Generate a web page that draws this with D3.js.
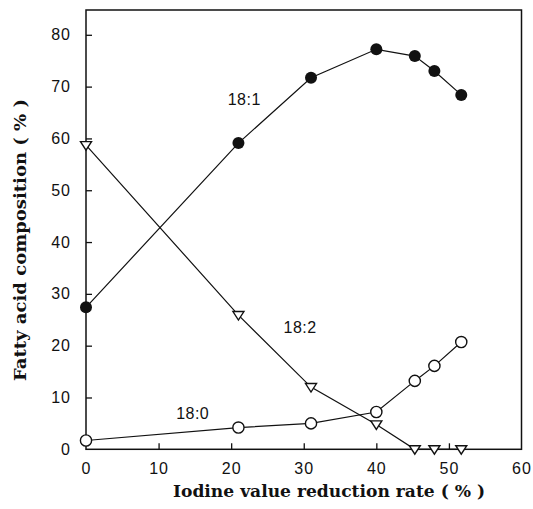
<!DOCTYPE html>
<html>
<head>
<meta charset="utf-8">
<script src="https://cdn.jsdelivr.net/npm/d3@7"></script>
<style>
  html, body { margin: 0; padding: 0; background: #fff; }
  svg { display: block; }
</style>
</head>
<body>
<svg id="chart" width="533" height="509"></svg>
<script>
// Iodine value reduction rate (%) at each sampling point
const reductionRate = [0, 21, 31, 40, 45.3, 48, 51.7];

// Fatty acid composition (%) per fatty acid
const oleic18_1    = [27.4, 59.1, 71.7, 77.2, 75.9, 73.0, 68.4];
const linoleic18_2 = [58.7, 25.9, 12.0, 4.8, 0, 0, 0];
const stearic18_0  = [1.7, 4.2, 5.0, 7.2, 13.2, 16.1, 20.7];

const xTicks = [0, 10, 20, 30, 40, 50, 60];
const yTicks = [0, 10, 20, 30, 40, 50, 60, 70, 80];

const svg = d3.select("#chart");
const plotLeft = 86, plotRight = 521.5, plotTop = 10, plotBottom = 449.3;

const x = d3.scaleLinear().domain([0, 60]).range([plotLeft, plotRight]);
const y = d3.scaleLinear().domain([0, 80]).range([plotBottom, plotBottom - 414.5]);

const ink = "#111";
const numFont = "'Liberation Sans', Arial, sans-serif";
const titleFont = "'DejaVu Serif', 'Liberation Serif', serif";

// plot frame
svg.append("rect")
  .attr("x", plotLeft).attr("y", plotTop)
  .attr("width", plotRight - plotLeft).attr("height", plotBottom - plotTop)
  .attr("fill", "none").attr("stroke", ink).attr("stroke-width", 1.5);

// axes with inward ticks
const xAxis = svg.append("g").attr("transform", `translate(0,${plotBottom})`)
  .call(d3.axisBottom(x).tickValues(xTicks).tickSize(-6).tickPadding(13).tickFormat(d3.format("d")));
const yAxis = svg.append("g").attr("transform", `translate(${plotLeft},0)`)
  .call(d3.axisLeft(y).tickValues(yTicks).tickSize(-6).tickPadding(15).tickFormat(d3.format("d")));

[xAxis, yAxis].forEach(g => {
  g.select(".domain").remove();
  g.selectAll(".tick line").attr("stroke", ink).attr("stroke-width", 1.3);
  g.selectAll(".tick text")
    .attr("fill", ink)
    .style("font-family", numFont)
    .style("font-size", "16px")
    .style("letter-spacing", "1px");
});
xAxis.selectAll(".tick").filter(d => d === 0 || d === 60).select("line").remove();
yAxis.selectAll(".tick").filter(d => d === 0).select("line").remove();

// series lines
const line = d3.line().x((d, i) => x(reductionRate[i])).y(d => y(d));
[oleic18_1, linoleic18_2, stearic18_0].forEach(vals => {
  svg.append("path").datum(vals)
    .attr("d", line)
    .attr("fill", "none").attr("stroke", ink).attr("stroke-width", 1.2);
});

// 18:1 filled circles
svg.append("g").selectAll("circle").data(oleic18_1).join("circle")
  .attr("cx", (d, i) => x(reductionRate[i])).attr("cy", d => y(d))
  .attr("r", 6).attr("fill", ink);

// 18:0 open circles
svg.append("g").selectAll("circle").data(stearic18_0).join("circle")
  .attr("cx", (d, i) => x(reductionRate[i])).attr("cy", d => y(d))
  .attr("r", 5.6).attr("fill", "#fff").attr("stroke", ink).attr("stroke-width", 1.4);

// 18:2 open down-pointing triangles
const tri = (cx, cy) => {
  const s = 5.5;
  return `M${cx - s},${cy - s * 0.65}L${cx + s},${cy - s * 0.65}L${cx},${cy + s * 0.9}Z`;
};
svg.append("g").selectAll("path").data(linoleic18_2).join("path")
  .attr("d", (d, i) => tri(x(reductionRate[i]), y(d)))
  .attr("fill", "#fff").attr("stroke", ink).attr("stroke-width", 1.4);

// series labels
const seriesLabels = [
  { text: "18:1", xv: 21.8, yv: 66.5 },
  { text: "18:2", xv: 29.5, yv: 22.4 },
  { text: "18:0", xv: 14.7, yv: 5.8 }
];
svg.append("g").selectAll("text").data(seriesLabels).join("text")
  .attr("x", d => x(d.xv)).attr("y", d => y(d.yv))
  .attr("text-anchor", "middle")
  .attr("fill", ink)
  .style("font-family", numFont)
  .style("font-size", "16px")
  .style("letter-spacing", "0.5px")
  .text(d => d.text);

// axis titles
svg.append("text")
  .attr("x", 329).attr("y", 497)
  .attr("text-anchor", "middle")
  .attr("textLength", 312).attr("lengthAdjust", "spacingAndGlyphs")
  .attr("fill", ink)
  .style("font-family", titleFont)
  .style("font-weight", "bold")
  .style("font-size", "16px")
  .text("Iodine value reduction rate ( % )");

svg.append("text")
  .attr("transform", "translate(26,240) rotate(-90)")
  .attr("text-anchor", "middle")
  .attr("textLength", 282).attr("lengthAdjust", "spacingAndGlyphs")
  .attr("fill", ink)
  .style("font-family", titleFont)
  .style("font-weight", "bold")
  .style("font-size", "16px")
  .text("Fatty acid composition ( % )");
</script>
</body>
</html>
